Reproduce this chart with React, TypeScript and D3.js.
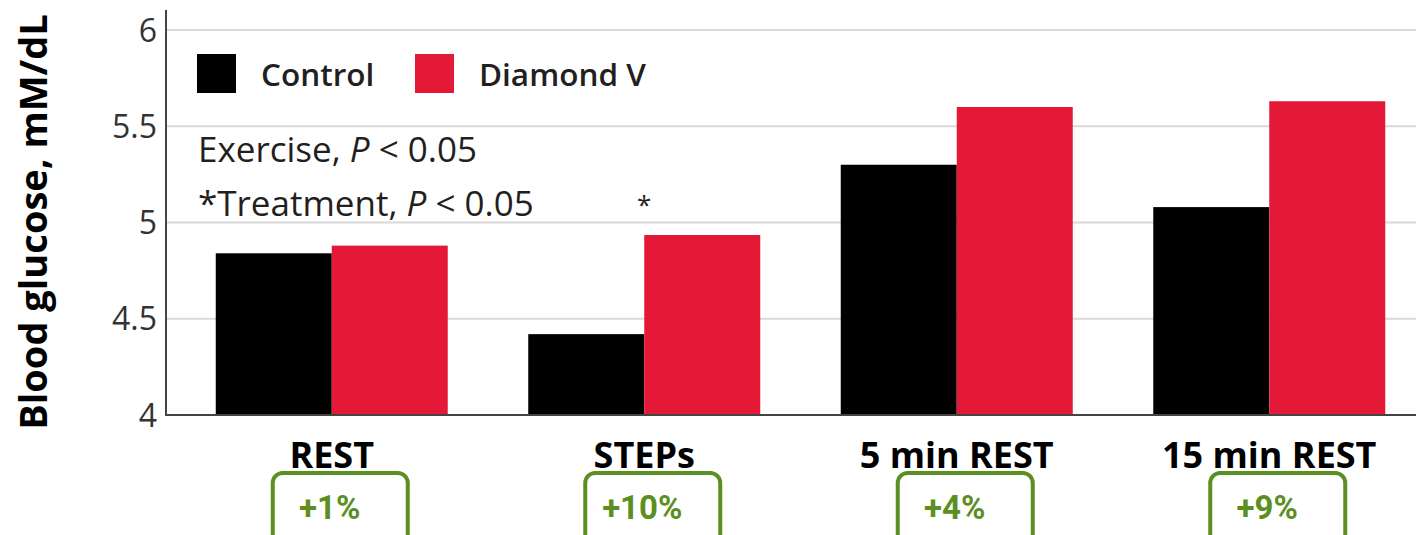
import * as d3 from 'd3';

const categories = ['REST', 'STEPs', '5 min REST', '15 min REST'];
const controlValues = [4.84, 4.42, 5.3, 5.08];
const diamondValues = [4.88, 4.935, 5.6, 5.63];
const changeLabels = ['+1%', '+10%', '+4%', '+9%'];
const yTicks = [4, 4.5, 5, 5.5, 6];
const seriesNames = ['Control', 'Diamond V'];

const W = 1416;
const H = 535;
const TEXT = '#231f20';
const RED = '#e31937';
const GREEN = '#5b8f22';
const FONT = '"Open Sans", "DejaVu Sans", sans-serif';

export default function App() {
  const x = d3
    .scaleBand()
    .domain(categories)
    .range([175.5, 1425.5])
    .paddingInner(0.2576)
    .paddingOuter(0.1288);
  const inner = d3
    .scaleBand()
    .domain(seriesNames)
    .range([0, x.bandwidth()]);
  const y = d3.scaleLinear().domain([4, 6]).range([415, 30]);

  const series = [
    { name: 'Control', values: controlValues, color: '#000' },
    { name: 'Diamond V', values: diamondValues, color: RED },
  ];

  return (
    <svg
      width={W}
      height={H}
      style={{ position: 'absolute', left: 0, top: 0, background: '#fff' }}
    >
      {/* gridlines */}
      {yTicks.slice(1).map((t) => (
        <line key={t} x1={166} x2={W} y1={y(t)} y2={y(t)} stroke="#d9d9d9" strokeWidth={2} />
      ))}

      {/* bars */}
      {series.map((s) =>
        categories.map((c, i) => (
          <rect
            key={s.name + c}
            x={(x(c) ?? 0) + (inner(s.name) ?? 0)}
            y={y(s.values[i])}
            width={inner.bandwidth()}
            height={y(4) - y(s.values[i])}
            fill={s.color}
          />
        ))
      )}

      {/* axes */}
      <line x1={166} x2={W} y1={y(4)} y2={y(4)} stroke="#444" strokeWidth={2} />
      <line x1={166} x2={166} y1={10} y2={y(4) + 1} stroke="#444" strokeWidth={2} />
      {yTicks.map((t) => (
        <text
          key={t}
          x={157}
          y={y(t)}
          dy="0.36em"
          textAnchor="end"
          fontFamily={FONT}
          fontSize={32}
          fill="#333"
        >
          {t}
        </text>
      ))}
      <text
        transform={`translate(47, 222) rotate(-90)`}
        textAnchor="middle"
        fontFamily={FONT}
        fontWeight="bold"
        fontSize={38}
        fill="#000"
      >
        Blood glucose, mM/dL
      </text>

      {/* category labels */}
      {categories.map((c) => (
        <text
          key={c}
          x={(x(c) ?? 0) + x.bandwidth() / 2}
          y={468}
          textAnchor="middle"
          fontFamily={FONT}
          fontWeight="bold"
          fontSize={36}
          fill="#000"
        >
          {c}
        </text>
      ))}

      {/* percent change boxes */}
      {categories.map((c, i) => {
        const cx = (x(c) ?? 0) + x.bandwidth() / 2;
        return (
          <g key={c + 'box'}>
            <rect
              x={cx - 59}
              y={473}
              width={135}
              height={72}
              rx={10}
              fill="none"
              stroke={GREEN}
              strokeWidth={4}
            />
            <text
              x={cx - 2}
              y={519}
              textAnchor="middle"
              fontFamily="Roboto, sans-serif"
              fontWeight="bold"
              fontSize={33}
              fill={GREEN}
            >
              {changeLabels[i]}
            </text>
          </g>
        );
      })}

      {/* legend */}
      {series.map((s, i) => {
        const lx = [197, 415][i];
        return (
          <g key={s.name + 'leg'}>
            <rect x={lx} y={54} width={39} height={39} fill={s.color} />
            <text
              x={lx + 64}
              y={86}
              fontFamily={FONT}
              fontWeight={600}
              fontSize={31.5}
              fill={TEXT}
            >
              {s.name}
            </text>
          </g>
        );
      })}

      {/* statistics notes */}
      <text x={198} y={162} fontFamily={FONT} fontSize={35} fill={TEXT}>
        Exercise, <tspan fontStyle="italic">P</tspan> &lt; 0.05
      </text>
      <text x={198} y={216} fontFamily={FONT} fontSize={35} fill={TEXT}>
        *Treatment, <tspan fontStyle="italic">P</tspan> &lt; 0.05
      </text>
      <text
        x={(x('STEPs') ?? 0) + x.bandwidth() / 2}
        y={214}
        textAnchor="middle"
        fontFamily={FONT}
        fontSize={26}
        fill={TEXT}
      >
        *
      </text>
    </svg>
  );
}
